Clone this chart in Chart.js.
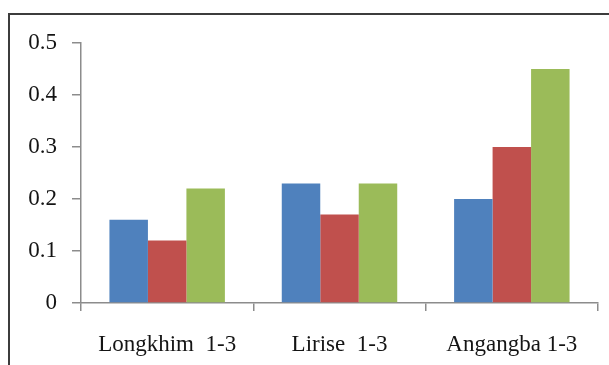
<!DOCTYPE html>
<html>
<head>
<meta charset="utf-8">
<title>Bar chart</title>
<script src="https://cdn.jsdelivr.net/npm/chart.js@4.4.1/dist/chart.umd.min.js"></script>
<style>
  html, body { margin: 0; padding: 0; background: #fff; overflow: hidden; }
  #wrap { position: absolute; left: 0; top: 0; width: 609px; height: 365px; }
  #frame { position: absolute; left: 8px; top: 13px; width: 700px; height: 400px;
           border-top: 2px solid #3c3c3c; border-left: 2px solid #3c3c3c; }
</style>
</head>
<body>
<div id="wrap">
  <div id="frame"></div>
  <canvas id="chart" width="609" height="365"></canvas>
</div>
<script>
// Sites sampled
const categories = ['Longkhim  1-3', 'Lirise  1-3', 'Angangba 1-3'];
// Three series per site
const seriesBlue  = [0.16, 0.23, 0.20];
const seriesRed   = [0.12, 0.17, 0.30];
const seriesGreen = [0.22, 0.23, 0.45];
// Value axis labels
const yTickLabels = ['0', '0.1', '0.2', '0.3', '0.4', '0.5'];

const axisGray = '#8c8c8c';
const labelFont = { family: '"Liberation Serif", "Times New Roman", serif', size: 23 };

new Chart(document.getElementById('chart'), {
  type: 'bar',
  data: {
    labels: categories,
    datasets: [
      { data: seriesBlue,  backgroundColor: '#4F81BD' },
      { data: seriesRed,   backgroundColor: '#C0504D' },
      { data: seriesGreen, backgroundColor: '#9BBB59' }
    ]
  },
  options: {
    responsive: false,
    animation: false,
    devicePixelRatio: 1,
    layout: { padding: { left: 0, top: 43, right: 11, bottom: 0 } },
    datasets: { bar: { categoryPercentage: 0.67, barPercentage: 1.0 } },
    plugins: { legend: { display: false }, tooltip: { enabled: false } },
    scales: {
      x: {
        grid: { display: true, drawOnChartArea: false, offset: true,
                color: axisGray, tickLength: 8, lineWidth: 1.5 },
        border: { color: axisGray, width: 1.5 },
        ticks: { color: '#141414', font: labelFont, padding: 20, maxRotation: 0 },
        afterFit: s => { s.height = 62; }
      },
      y: {
        min: 0, max: 0.5,
        grid: { display: true, drawOnChartArea: false,
                color: axisGray, tickLength: 9, lineWidth: 1.5 },
        border: { color: axisGray, width: 1.5 },
        ticks: { stepSize: 0.1, color: '#141414', font: labelFont, padding: 15,
                 callback: (v, i) => yTickLabels[i] },
        afterFit: s => { s.width = 81; }
      }
    }
  }
});
</script>
</body>
</html>
